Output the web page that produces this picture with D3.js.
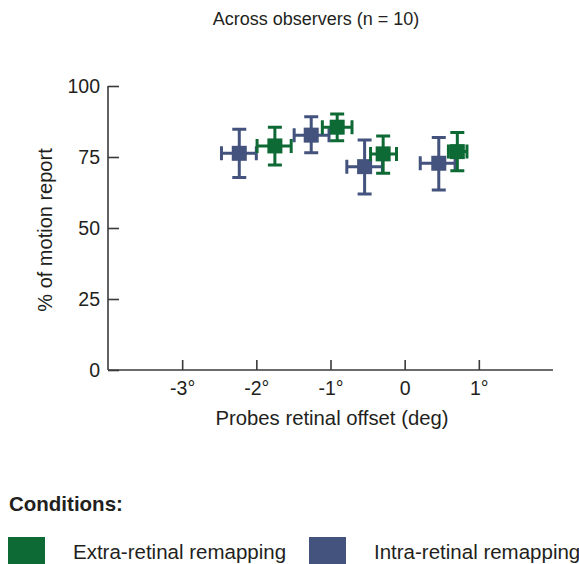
<!DOCTYPE html>
<html><head><meta charset="utf-8">
<script src="https://cdn.jsdelivr.net/npm/d3@7"></script>
<style>body{margin:0;background:#fff}svg{display:block}text{font-family:"Liberation Sans",Arial,sans-serif;fill:#231f20}</style>
</head><body>
<script>
const seriesNames = ["Intra-retinal remapping", "Extra-retinal remapping"];
const seriesColors = ["#43537e", "#0e6a35"];
// Intra-retinal (blue)
const intraX = [-2.23, -1.26, -0.54, 0.46];
const intraY = [76.3, 82.7, 71.6, 72.8];
const intraXLo = [-2.47, -1.49, -0.78, 0.21];
const intraXHi = [-2.00, -1.02, -0.30, 0.68];
const intraYLo = [67.8, 76.5, 62.0, 63.4];
const intraYHi = [84.8, 89.2, 81.0, 81.9];
// Extra-retinal (green)
const extraX = [-1.75, -0.91, -0.29, 0.71];
const extraY = [78.9, 85.5, 76.1, 76.9];
const extraXLo = [-1.99, -1.11, -0.46, 0.59];
const extraXHi = [-1.53, -0.71, -0.11, 0.84];
const extraYLo = [72.2, 80.7, 69.3, 70.2];
const extraYHi = [85.5, 90.1, 82.4, 83.6];
const xTicks = [-3, -2, -1, 0, 1];
const xTickLabels = ["-3°", "-2°", "-1°", "0", "1°"];
const yTicks = [0, 25, 50, 75, 100];

const W = 579, H = 564;
const svg = d3.select("body").append("svg").attr("width", W).attr("height", H);
const x = d3.scaleLinear().domain([-4, 2]).range([108, 553]);
const y = d3.scaleLinear().domain([0, 100]).range([370, 86]);
const axisColor = "#3a3a3a";

// axes
const gx = svg.append("g").attr("transform", "translate(0,370)")
  .call(d3.axisBottom(x).tickValues(xTicks).tickFormat((d, i) => xTickLabels[i]).tickSizeInner(-10).tickSizeOuter(0).tickPadding(11));
const gy = svg.append("g").attr("transform", "translate(108,0)")
  .call(d3.axisLeft(y).tickValues(yTicks).tickSizeInner(-11).tickSizeOuter(0).tickPadding(8));
[gx, gy].forEach(g => {
  g.select(".domain").attr("stroke", axisColor).attr("stroke-width", 1.6);
  g.selectAll(".tick line").attr("stroke", axisColor).attr("stroke-width", 1.6);
  g.selectAll(".tick text").attr("font-family", "Liberation Sans, Arial, sans-serif").attr("fill", "#231f20").attr("font-size", 19.5);
});
gy.select(".domain").attr("d", "M0,370V86");
gx.select(".domain").attr("d", "M108,0H553");

// labels
svg.append("text").attr("x", 316).attr("y", 25).attr("text-anchor", "middle").attr("font-size", 18).text("Across observers (n = 10)");
svg.append("text").attr("x", 332).attr("y", 425).attr("text-anchor", "middle").attr("font-size", 20.3).text("Probes retinal offset (deg)");
svg.append("text").attr("transform", "translate(52,230) rotate(-90)").attr("text-anchor", "middle").attr("font-size", 20).text("% of motion report");

// data
const series = [
  {x: intraX, y: intraY, xlo: intraXLo, xhi: intraXHi, ylo: intraYLo, yhi: intraYHi, color: seriesColors[0]},
  {x: extraX, y: extraY, xlo: extraXLo, xhi: extraXHi, ylo: extraYLo, yhi: extraYHi, color: seriesColors[1]}
];
const cap = 7, sq = 15, lw = 3;
series.forEach(s => {
  const g = svg.append("g").attr("stroke", s.color).attr("fill", s.color);
  s.x.forEach((xv, i) => {
    const cx = x(xv), cy = y(s.y[i]);
    const x0 = x(s.xlo[i]), x1 = x(s.xhi[i]), y0 = y(s.ylo[i]), y1 = y(s.yhi[i]);
    const p = `M${x0},${cy}H${x1}M${cx},${y0}V${y1}` +
      `M${x0},${cy - cap}V${cy + cap}M${x1},${cy - cap}V${cy + cap}` +
      `M${cx - cap},${y0}H${cx + cap}M${cx - cap},${y1}H${cx + cap}`;
    g.append("path").attr("d", p).attr("fill", "none").attr("stroke-width", lw);
    g.append("rect").attr("x", cx - sq / 2).attr("y", cy - sq / 2).attr("width", sq).attr("height", sq).attr("stroke", "none");
  });
});

// legend
svg.append("text").attr("x", 9).attr("y", 511).attr("font-size", 20.5).attr("font-weight", "bold").text("Conditions:");
const leg = [
  {name: seriesNames[1], color: seriesColors[1], x: 8},
  {name: seriesNames[0], color: seriesColors[0], x: 309}
];
leg.forEach(l => {
  svg.append("rect").attr("x", l.x).attr("y", 537).attr("width", 37).attr("height", 27).attr("fill", l.color);
  svg.append("text").attr("x", l.x + 65).attr("y", 559).attr("font-size", 20.5).text(l.name);
});
</script>
</body></html>
